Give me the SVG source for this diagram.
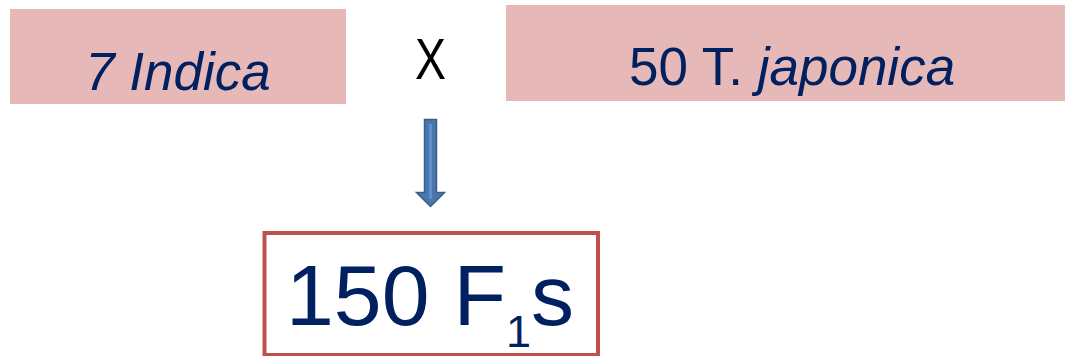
<svg xmlns="http://www.w3.org/2000/svg" width="1065" height="356" viewBox="0 0 1065 356">
<style>
.t{font-family:"Liberation Sans",Arial,sans-serif;fill:#002060}
.pink{fill:#E6B8B7}
</style>
<rect width="1065" height="356" fill="#FFFFFF"/>
<g id="indica">
<rect class="pink" x="10" y="9" width="336" height="95"/>
<text class="t" x="178" y="90" font-size="53" font-style="italic" text-anchor="middle">7 Indica</text>
</g>
<g id="cross">
<text transform="translate(430.5,79) scale(0.8,1)" x="0" y="0" font-family="Liberation Sans, Arial, sans-serif" font-size="58" fill="#000000" text-anchor="middle">X</text>
</g>
<g id="japonica">
<rect class="pink" x="506" y="5" width="559" height="96"/>
<text class="t" x="629" y="85" font-size="53">50 T. <tspan font-style="italic">japonica</tspan></text>
</g>
<g id="connectors">
<path d="M424.5,119.5 H436.5 V192.5 H444.5 L430.5,206.5 L416.5,192.5 H424.5 Z" fill="#4A76AC" stroke="#385D8A" stroke-width="1.5"/>
<line x1="430.5" y1="124" x2="430.5" y2="199" stroke="#5B8FD0" stroke-width="3"/>
</g>
<g id="f1">
<rect x="264.5" y="233" width="333.5" height="122" fill="#FFFFFF" stroke="#C0504D" stroke-width="4"/>
<text class="t" x="286" y="325" font-size="86">150 F<tspan font-size="45" dy="22">1</tspan><tspan dy="-22">s</tspan></text>
</g>
</svg>
